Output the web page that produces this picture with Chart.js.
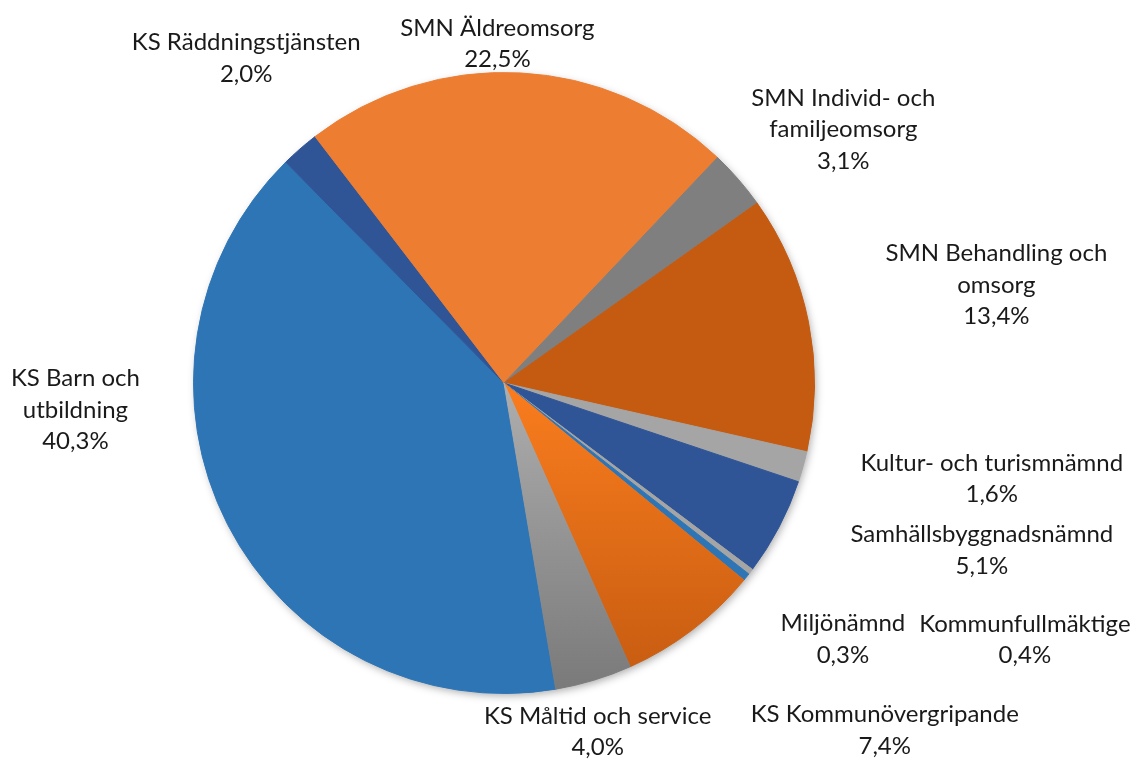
<!DOCTYPE html>
<html>
<head>
<meta charset="utf-8">
<script src="https://cdn.jsdelivr.net/npm/chart.js@4.4.1/dist/chart.umd.min.js"></script>
<style>
  html, body { margin: 0; padding: 0; background: #fff; }
  #wrap { width: 1140px; height: 765px; }
</style>
</head>
<body>
<div id="wrap"><canvas id="myChart" width="1140" height="765"></canvas></div>
<script>
// slices, clockwise starting from the bottom of the pie
const categories = [
  'KS Barn och utbildning',
  'KS Räddningstjänsten',
  'SMN Äldreomsorg',
  'SMN Individ- och familjeomsorg',
  'SMN Behandling och omsorg',
  'Kultur- och turismnämnd',
  'Samhällsbyggnadsnämnd',
  'Miljönämnd',
  'Kommunfullmäktige',
  'KS Kommunövergripande',
  'KS Måltid och service'
];
const shares = [40.3, 2.0, 22.5, 3.1, 13.4, 1.6, 5.1, 0.3, 0.4, 7.4, 4.0];

// how each label wraps (name lines, percentage goes below)
const labelLines = [
  ['KS Barn och', 'utbildning'],
  ['KS Räddningstjänsten'],
  ['SMN Äldreomsorg'],
  ['SMN Individ- och', 'familjeomsorg'],
  ['SMN Behandling och', 'omsorg'],
  ['Kultur- och turismnämnd'],
  ['Samhällsbyggnadsnämnd'],
  ['Miljönämnd'],
  ['Kommunfullmäktige'],
  ['KS Kommunövergripande'],
  ['KS Måltid och service']
];
const shareText = shares.map(v => v.toFixed(1).replace('.', ',') + '%');

// styles
const sliceColors = ['#2E75B6', '#2F5597', '#ED7D31', '#7F7F7F', '#C55A11', '#A5A5A5',
                     '#2F5597', '#A5A5A5', '#2E75B6', '#E26B15', '#8F8F8F'];
const sliceGradients = [null, null, null, null, null, null, null, null, null,
                        ['#FA7D1E', '#C45A10'], ['#AEAEAE', '#797979']];
// label shift from the slice's mid-angle anchor (px)
const labelNudge = [[-97, -143], [-13, -44], [-26, 33], [58, -9], [127, -25], [129, -5],
                    [148, -6], [43, 30], [230, 24], [155, 51], [-14, -8]];
const lineH = 31.5;

function sliceFill(context) {
  const i = context.dataIndex;
  const area = context.chart.chartArea;
  if (!sliceGradients[i] || !area) return sliceColors[i];
  const cy = (area.top + area.bottom) / 2;
  const g = context.chart.ctx.createLinearGradient(0, cy, 0, area.bottom);
  g.addColorStop(0, sliceGradients[i][0]);
  g.addColorStop(1, sliceGradients[i][1]);
  return g;
}

const pieShadow = {
  id: 'pieShadow',
  beforeDatasetsDraw(chart) {
    const arc = chart.getDatasetMeta(0).data[0];
    if (!arc) return;
    const p = arc.getProps(['x', 'y', 'outerRadius']);
    const ctx = chart.ctx;
    ctx.save();
    ctx.shadowColor = 'rgba(0,0,0,0.35)';
    ctx.shadowBlur = 8;
    ctx.shadowOffsetX = 2;
    ctx.shadowOffsetY = 3;
    ctx.beginPath();
    ctx.arc(p.x, p.y, p.outerRadius - 1, 0, Math.PI * 2);
    ctx.fillStyle = '#fff';
    ctx.fill();
    ctx.restore();
  }
};

const pieLabels = {
  id: 'pieLabels',
  afterDatasetsDraw(chart) {
    const ctx = chart.ctx;
    const arcs = chart.getDatasetMeta(0).data;
    ctx.save();
    ctx.font = '24px Lato';
    ctx.fillStyle = '#1a1a1a';
    ctx.textAlign = 'center';
    ctx.textBaseline = 'middle';
    arcs.forEach((arc, i) => {
      const p = arc.getProps(['x', 'y', 'startAngle', 'endAngle', 'outerRadius']);
      const mid = (p.startAngle + p.endAngle) / 2;
      const d = p.outerRadius * 1.2;
      const x = p.x + Math.cos(mid) * d + labelNudge[i][0];
      const y = p.y + Math.sin(mid) * d + labelNudge[i][1];
      const lines = labelLines[i].concat(shareText[i]);
      const top = y - (lines.length - 1) * lineH / 2;
      lines.forEach((t, k) => ctx.fillText(t, x, top + k * lineH));
    });
    ctx.restore();
  }
};

const data = {
  labels: categories,
  datasets: [{
    data: shares,
    backgroundColor: sliceFill,
    borderColor: sliceFill,
    borderWidth: 1
  }]
};

const config = {
  type: 'pie',
  data,
  options: {
    responsive: false,
    animation: false,
    rotation: 170.4,
    layout: { padding: { left: 193, right: 325, top: 72, bottom: 71 } },
    plugins: {
      legend: { display: false },
      tooltip: { enabled: false }
    }
  },
  plugins: [pieShadow, pieLabels]
};

const myChart = new Chart(document.getElementById('myChart'), config);
</script>
</body>
</html>
